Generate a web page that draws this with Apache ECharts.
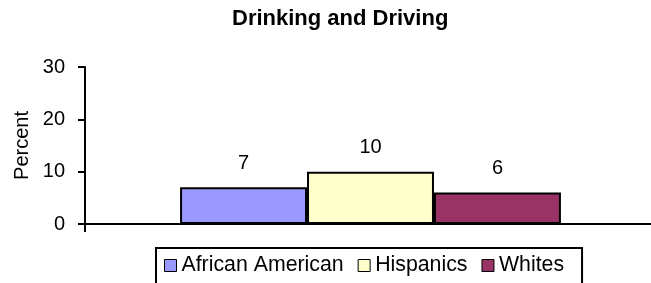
<!DOCTYPE html>
<html>
<head>
<meta charset="utf-8">
<style>
  html, body { margin: 0; padding: 0; background: #fff; }
  #chart { width: 651px; height: 283px; }
</style>
<script src="https://cdn.jsdelivr.net/npm/echarts@6/dist/echarts.min.js"></script>
</head>
<body>
<div id="chart"></div>
<script>
const FONT = '"Liberation Sans", Arial, sans-serif'
const categories = ['']
const groupNames = ['African American', 'Hispanics', 'Whites']
const groupValues = [7, 10, 6]
const groupColors = ['#9999ff', '#ffffcc', '#993366']
const yMin = 0
const yMax = 30
const yStep = 10

const chart = echarts.init(document.getElementById('chart'))

const series = groupNames.map((name, i) => ({
  name,
  type: 'bar',
  data: [groupValues[i]],
  barGap: '0%',
  barCategoryGap: '33.3%',
  itemStyle: { color: groupColors[i], borderColor: '#000', borderWidth: 2 },
  label: {
    show: true,
    position: 'top',
    distance: 14,
    color: '#000',
    fontFamily: FONT,
    fontSize: 20
  },
  animation: false
}))

chart.setOption({
  title: {
    text: 'Drinking and Driving',
    left: 232,
    top: 8,
    padding: 0,
    textStyle: { fontFamily: FONT, fontSize: 22, fontWeight: 'bold', color: '#000' }
  },
  legend: {
    left: 156,
    top: 248,
    padding: [7, 18, 20, 8],
    itemGap: 14,
    itemWidth: 12,
    itemHeight: 12,
    icon: 'rect',
    borderColor: '#000',
    borderWidth: 2,
    itemStyle: { borderColor: '#000', borderWidth: 1 },
    textStyle: { fontFamily: FONT, fontSize: 21.3, color: '#000' },
    data: groupNames
  },
  grid: { left: 85, width: 571, top: 67, bottom: 59, outerBoundsMode: 'none' },
  xAxis: {
    type: 'category',
    data: categories,
    axisLine: { lineStyle: { color: '#000', width: 2 } },
    axisTick: { show: true, length: 8, lineStyle: { color: '#000', width: 2 } },
    axisLabel: { show: false }
  },
  yAxis: {
    type: 'value',
    min: yMin,
    max: yMax,
    interval: yStep,
    name: 'Percent',
    nameLocation: 'middle',
    nameGap: 53,
    nameMoveOverlap: false,
    nameTextStyle: { fontFamily: FONT, fontSize: 20, color: '#000' },
    axisLine: { show: true, lineStyle: { color: '#000', width: 2 } },
    axisTick: { show: true, length: 7, lineStyle: { color: '#000', width: 2 } },
    axisLabel: { margin: 20, fontFamily: FONT, fontSize: 20, color: '#000' },
    splitLine: { show: false }
  },
  series
})
</script>
</body>
</html>
